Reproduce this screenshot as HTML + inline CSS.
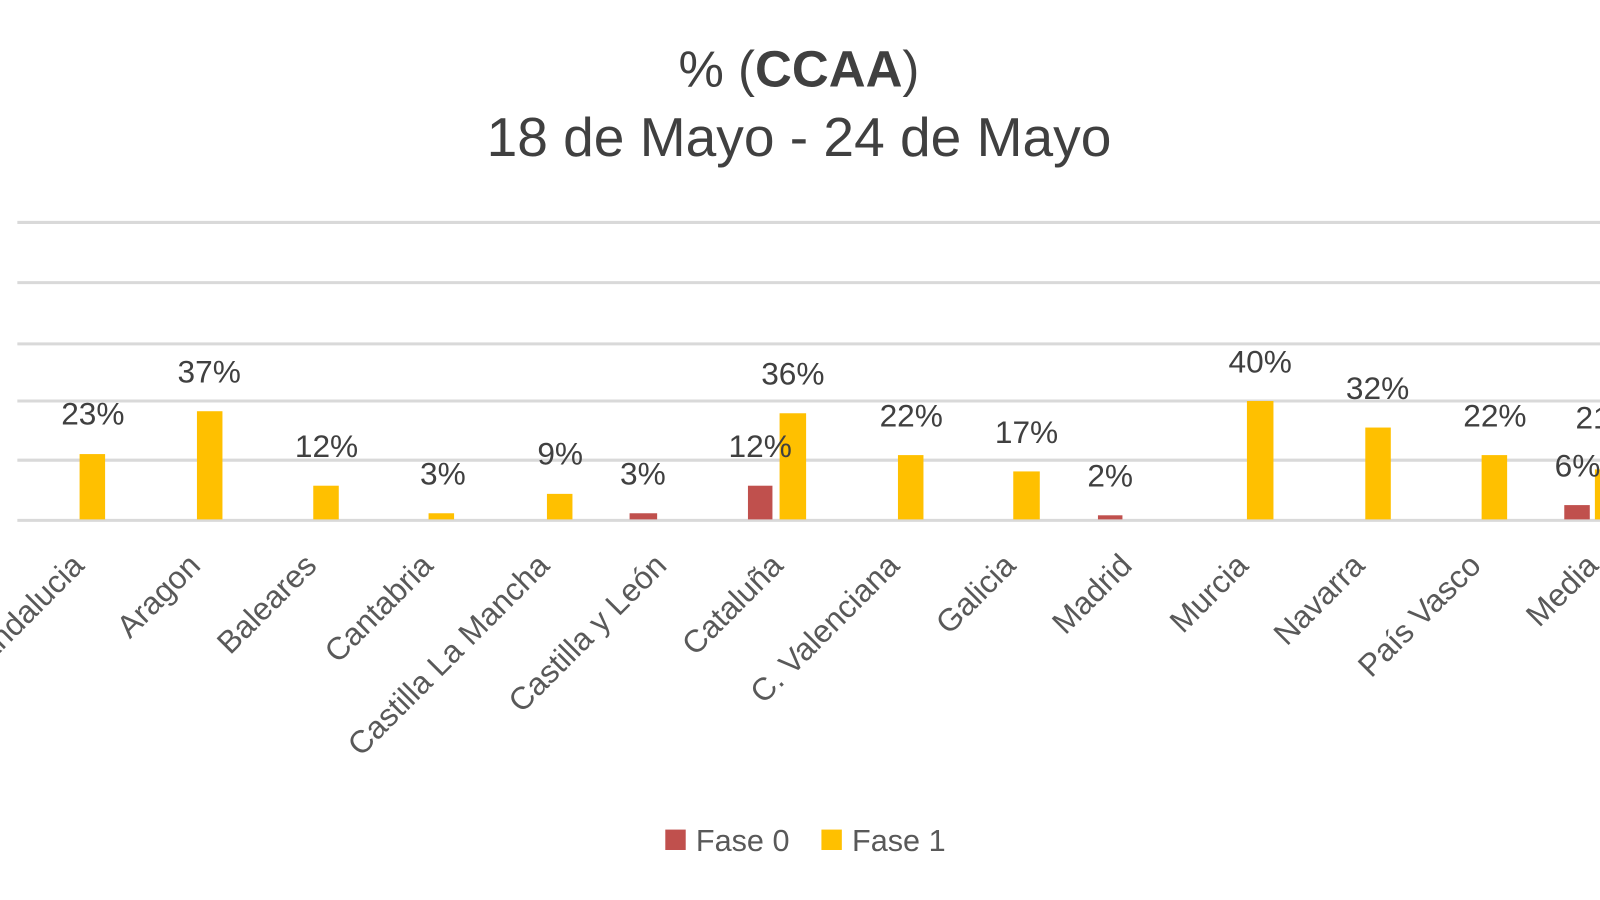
<!DOCTYPE html>
<html><head><meta charset="utf-8"><style>body{margin:0;background:#fff}svg{display:block}</style></head>
<body>
<svg width="1600" height="900" xmlns="http://www.w3.org/2000/svg" font-family="Liberation Sans, sans-serif">
<rect width="1600" height="900" fill="#fff"/>
<g transform="scale(1.0204)">
<text x="783" y="85" text-anchor="middle" font-size="50" fill="#404040">% (<tspan font-weight="bold">CCAA</tspan>)</text>
<text x="783" y="153" text-anchor="middle" font-size="54" fill="#404040">18 de Mayo - 24 de Mayo</text>
<g stroke="#d9d9d9" stroke-width="3">
<line x1="17" x2="1600" y1="218" y2="218"/>
<line x1="17" x2="1600" y1="277" y2="277"/>
<line x1="17" x2="1600" y1="337" y2="337"/>
<line x1="17" x2="1600" y1="393" y2="393"/>
<line x1="17" x2="1600" y1="451" y2="451"/>
<line x1="17" x2="1600" y1="510" y2="510"/>
</g>
<g fill="#ffc000">
<rect x="78" y="445" width="25" height="64"/>
<rect x="193" y="403" width="25" height="106"/>
<rect x="307" y="476" width="25" height="33"/>
<rect x="420" y="503" width="25" height="6"/>
<rect x="536" y="484" width="25" height="25"/>
<rect x="764" y="405" width="26" height="104"/>
<rect x="880" y="446" width="25" height="63"/>
<rect x="993" y="462" width="26" height="47"/>
<rect x="1222" y="393" width="26" height="116"/>
<rect x="1338" y="419" width="25" height="90"/>
<rect x="1452" y="446" width="25" height="63"/>
<rect x="1563" y="460" width="25" height="49"/>
</g>
<g fill="#c0504d">
<rect x="617" y="503" width="27" height="6"/>
<rect x="733" y="476" width="24" height="33"/>
<rect x="1076" y="505" width="24" height="4"/>
<rect x="1533" y="495" width="25" height="14"/>
</g>
<g font-size="31" fill="#404040" text-anchor="middle">
<text x="91" y="416">23%</text>
<text x="205" y="375">37%</text>
<text x="320" y="448">12%</text>
<text x="434" y="475">3%</text>
<text x="549" y="455">9%</text>
<text x="630" y="475">3%</text>
<text x="745" y="448">12%</text>
<text x="777" y="377">36%</text>
<text x="893" y="418">22%</text>
<text x="1006" y="434">17%</text>
<text x="1088" y="477">2%</text>
<text x="1235" y="365">40%</text>
<text x="1350" y="391">32%</text>
<text x="1465" y="418">22%</text>
<text x="1546" y="467">6%</text>
<text x="1575" y="420">21%</text>
</g>
<g font-size="31" fill="#595959" text-anchor="end">
<text transform="translate(84,556) rotate(-45)">Andalucia</text>
<text transform="translate(198,556) rotate(-45)">Aragon</text>
<text transform="translate(312,556) rotate(-45)">Baleares</text>
<text transform="translate(426,556) rotate(-45)">Cantabria</text>
<text transform="translate(540,556) rotate(-45)">Castilla La Mancha</text>
<text transform="translate(655,556) rotate(-45)">Castilla y León</text>
<text transform="translate(769,556) rotate(-45)">Cataluña</text>
<text transform="translate(883,556) rotate(-45)">C. Valenciana</text>
<text transform="translate(997,556) rotate(-45)">Galicia</text>
<text transform="translate(1111,556) rotate(-45)">Madrid</text>
<text transform="translate(1225,556) rotate(-45)">Murcia</text>
<text transform="translate(1339,556) rotate(-45)">Navarra</text>
<text transform="translate(1453,556) rotate(-45)">País Vasco</text>
<text transform="translate(1568,556) rotate(-45)">Media</text>
</g>
<rect x="652" y="813" width="20" height="20" fill="#c0504d"/>
<text x="682" y="834" font-size="30" fill="#595959">Fase 0</text>
<rect x="805" y="813" width="20" height="20" fill="#ffc000"/>
<text x="835" y="834" font-size="30" fill="#595959">Fase 1</text>
</g>
</svg>
</body></html>
